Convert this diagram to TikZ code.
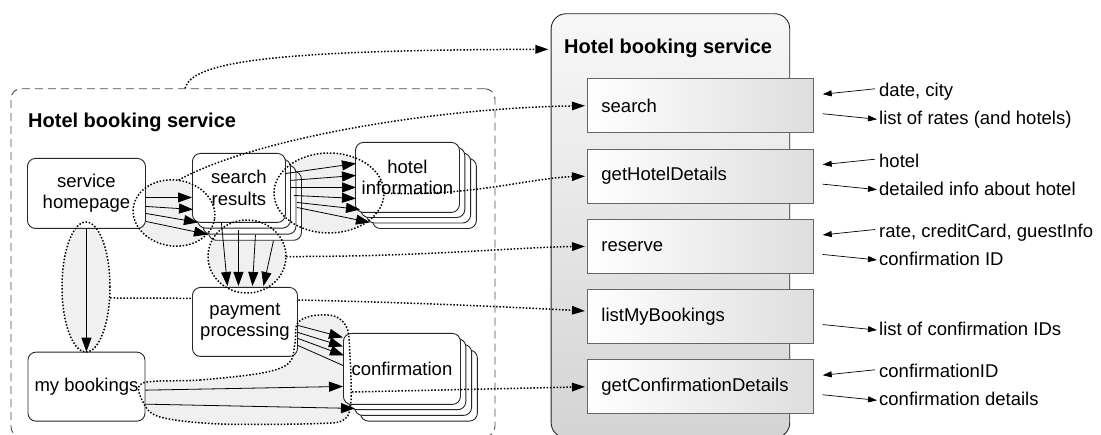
\documentclass[tikz,border=0pt]{standalone}
\usepackage{fontspec}
\setmainfont{Liberation Sans}
\usetikzlibrary{arrows.meta,shapes.geometric,calc}
\begin{document}
\begin{tikzpicture}[x=1pt,y=-1pt,
  lbl/.style={font=\fontsize{18.5}{21.5}\selectfont, inner sep=0, anchor=base west},
  ttl/.style={font=\bfseries\fontsize{20}{24}\selectfont, inner sep=0, anchor=base west},
  rbox/.style={draw=black!85, line width=0.9pt, fill=white, rounded corners=8pt, inner sep=0, anchor=north west, font=\fontsize{18.5}{21.5}\selectfont, align=center},
  copybox/.style={draw=black!85, line width=0.9pt, fill=white, rounded corners=8pt},
  mbox/.style={draw=black!60, line width=0.9pt, left color=white, right color=black!13, minimum width=226pt, minimum height=54pt, anchor=north west, inner xsep=13.7pt, inner ysep=0, text width=198.6pt, align=left, font=\fontsize{18.5}{21.5}\selectfont},
  arr/.style={draw=black, line width=0.8pt, -{Triangle[length=14pt,width=10pt]}},
  plainln/.style={draw=black, line width=0.8pt},
  dotline/.style={line width=1.5pt, dash pattern=on 1.5pt off 1.8pt},
  dotarr/.style={dotline, shorten >=2.3pt, -{Triangle[length=13pt,width=8.5pt]}},
  larr/.style={line width=0.7pt, -{Triangle[length=9pt,width=6pt]}},
  ellf/.style={ellipse, fill=black!6, inner sep=0},
  elld/.style={ellipse, draw=black, dotline, inner sep=0},
]
\useasboundingbox (0,0) rectangle (1101,435);

% containers
\node[draw=black!70, line width=0.9pt, dash pattern=on 8pt off 5pt, rounded corners=10pt, minimum width=484pt, minimum height=348pt, anchor=north west, inner sep=0] (cont) at (10.5,88.3) {};
\node[draw=black!85, line width=0.9pt, rounded corners=15pt, top color=black!3, bottom color=black!17, minimum width=238.6pt, minimum height=424pt, anchor=north west, inner sep=0] (big) at (550.7,13.3) {};
\node[ttl] (t1) at (28,128) {Hotel booking service};
\node[ttl] (t2) at (564,53.3) {Hotel booking service};

% method boxes
\node[mbox] (m1) at (587.3,78.3) {search};
\node[mbox] (m2) at (587.3,148.7) {getHotelDetails};
\node[mbox] (m3) at (587.3,219) {reserve};
\node[mbox] (m4) at (587.3,289.1) {listMyBookings};
\node[mbox] (m5) at (587.3,359.3) {getConfirmationDetails};

% ellipse fills
\node[ellf, minimum width=82pt, minimum height=66pt, rotate=-8] (e1) at (174,213) {};
\node[ellf, minimum width=110pt, minimum height=80pt] (e2) at (329,193) {};
\node[ellf, minimum width=78pt, minimum height=73pt] (e3) at (247,256.5) {};
\node[ellf, minimum width=48pt, minimum height=130pt] (e4) at (86,287) {};
\fill[black!6] plot[smooth cycle, tension=0.55] coordinates {(143,383) (200,380) (262,373) (289,363) (295,343) (297,324) (311,316) (334,316) (347,328) (350,356) (351,400) (345,419) (320,423.5) (220,424) (160,417) (143,402)};

% dotted line under boxes
\draw[dotarr] ($(e4.east)+(0,11)$) .. controls (300,298) and (450,304) .. ($(m4.west)+(0,-5.5)$);

% boxes
\node[rbox, minimum width=118pt, minimum height=70pt] (hp) at (27,158) {service\\homepage};
\node[rbox, minimum width=117pt, minimum height=69pt] (mb) at (27.5,351.7) {my bookings};
\node[rbox, minimum width=105pt, minimum height=69pt] (pp) at (192,287) {payment\\processing};
\foreach \k in {3,2,1} \draw[copybox] (192+5.5*\k,153+6.1*\k) rectangle ++(93,69);
\node[rbox, minimum width=93pt, minimum height=69pt] (sr) at (192,153) {search\\results};
\foreach \k in {3,2,1} \draw[copybox] (355+5.8*\k,142+5.5*\k) rectangle ++(104,70);
\node[rbox, minimum width=104pt, minimum height=70pt] (hi) at (355,142) {hotel\\information};
\foreach \k in {3,2,1} \draw[copybox] (343+5.8*\k,333+5.7*\k) rectangle ++(117,71);
\node[rbox, minimum width=117pt, minimum height=71pt] (cf) at (343,333) {confirmation};

% ellipse borders
\node[elld, minimum width=82pt, minimum height=66pt, rotate=-8] at (e1) {};
\node[elld, minimum width=110pt, minimum height=80pt] at (e2) {};
\node[elld, minimum width=78pt, minimum height=73pt] at (e3) {};
\node[elld, minimum width=48pt, minimum height=130pt] at (e4) {};
\draw[dotline] plot[smooth cycle, tension=0.55] coordinates {(143,383) (200,380) (262,373) (289,363) (295,343) (297,324) (311,316) (334,316) (347,328) (350,356) (351,400) (345,419) (320,423.5) (220,424) (160,417) (143,402)};
\coordinate (bR) at (352,392);

% black arrows
\draw[arr] (hp.south) -- (mb.north);
\draw[arr] ($(hp.east)+(0,4)$) -- ($(sr.west)+(0,9.5)$);
\draw[arr] ($(hp.east)+(0,13)$) -- ($(sr.west)+(1,21.5)$);
\draw[arr] ($(hp.east)+(0,20)$) -- ($(sr.west)+(6,34.5)$);
\draw[arr] ($(hp.east)+(0,28)$) -- ($(sr.west)+(16,46.5)$);

\draw[arr] ($(sr.east)+(0,-14.5)$) -- ($(hi.west)+(1,-14)$);
\draw[arr] ($(sr.east)+(4,-7.5)$) -- ($(hi.west)+(1,-2)$);
\draw[arr] ($(sr.east)+(5,-0.5)$) -- ($(hi.west)+(1,10)$);
\draw[arr] ($(sr.east)+(8,7.5)$) -- ($(hi.west)+(1,21)$);
\draw[arr] ($(sr.east)+(11,14.5)$) -- ($(hi.west)+(5,32)$);
\draw[arr] ($(sr.east)+(11,19.5)$) -- ($(hi.west)+(15,45)$);

\draw[arr] ($(sr.south)+(-17.5,0)$) -- ($(pp.north)+(-17.5,-1)$);
\draw[arr] ($(sr.south)+(-0.5,7)$) -- ($(pp.north)+(-6.5,-1)$);
\draw[arr] ($(sr.south)+(16.5,12)$) -- ($(pp.north)+(7.5,-1)$);
\draw[arr] ($(sr.south)+(34.5,18)$) -- ($(pp.north)+(18.5,-1)$);

\draw[arr] ($(pp.east)+(0,3.5)$) -- ($(cf.west)+(0,-31.5)$);
\draw[arr] ($(pp.east)+(0,10.5)$) -- ($(cf.west)+(0,-22.5)$);
\draw[arr] ($(pp.east)+(0,16.5)$) -- ($(cf.west)+(1,-13.5)$);
\draw[plainln] ($(pp.east)+(0,23.5)$) -- ($(cf.west)+(0,-3.5)$);

\draw[arr] ($(mb.east)+(0,3.5)$) -- ($(cf.west)+(0,17.5)$);
\draw[arr] ($(mb.east)+(0,17.5)$) -- ($(cf.west)+(12,39.5)$);

% dotted arrows
\draw[dotarr] ($(cont.north west)+(174.5,0)$) .. controls (192,62) and (270,50) .. ($(big.north west)+(0,36)$);
\draw[dotarr] (e1.north) .. controls (250,140) and (430,108) .. (m1.west);
\draw[dotarr] (e2.east) .. controls (470,197) and (530,178) .. (m2.west);
\draw[dotarr] (e3.east) .. controls (420,257) and (520,247) .. (m3.west);
\draw[dotarr] (bR) -- (m5.west);

% labels
\node[lbl] (i1) at (879,96.8) {date, city};
\node[lbl] (o1) at (879,124.8) {list of rates (and hotels)};
\node[lbl] (i2) at (879,167.2) {hotel};
\node[lbl] (o2) at (879,195.2) {detailed info about hotel};
\node[lbl] (i3) at (879,237.5) {rate, creditCard, guestInfo};
\node[lbl] (o3) at (879,265.5) {confirmation ID};
\node[lbl] (o4) at (879,335.6) {list of confirmation IDs};
\node[lbl] (i5) at (879,377.8) {confirmationID};
\node[lbl] (o5) at (879,405.8) {confirmation details};

\draw[larr] ($(i1.base west)+(-4,-8)$) -- ($(m1.east)+(8.5,-11.5)$);
\draw[larr] ($(m1.east)+(8.5,8)$) -- ($(o1.base west)+(-2,-5.5)$);
\draw[larr] ($(i2.base west)+(-4,-8)$) -- ($(m2.east)+(8.5,-11.5)$);
\draw[larr] ($(m2.east)+(8.5,8)$) -- ($(o2.base west)+(-2,-5.5)$);
\draw[larr] ($(i3.base west)+(-4,-8)$) -- ($(m3.east)+(8.5,-11.5)$);
\draw[larr] ($(m3.east)+(8.5,8)$) -- ($(o3.base west)+(-2,-5.5)$);
\draw[larr] ($(m4.east)+(8.5,8)$) -- ($(o4.base west)+(-2,-5.5)$);
\draw[larr] ($(i5.base west)+(-4,-8)$) -- ($(m5.east)+(8.5,-11.5)$);
\draw[larr] ($(m5.east)+(8.5,8)$) -- ($(o5.base west)+(-2,-5.5)$);
\end{tikzpicture}
\end{document}
